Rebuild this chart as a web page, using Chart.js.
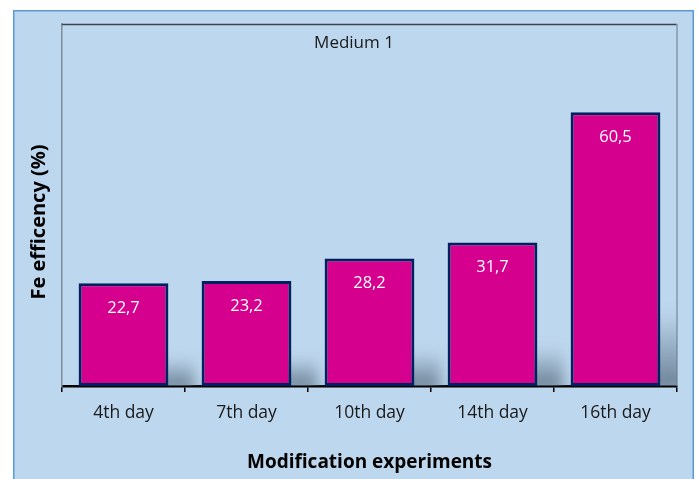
<!DOCTYPE html>
<html>
<head>
<meta charset="utf-8">
<script src="https://cdn.jsdelivr.net/npm/chart.js@4/dist/chart.umd.min.js"></script>
<style>
  html, body { margin: 0; padding: 0; background: #ffffff; }
  #wrap { width: 699px; height: 479px; position: relative; }
</style>
</head>
<body>
<div id="wrap"><canvas id="c" width="699" height="479"></canvas></div>
<script>
// Fe efficiency per sampling day, medium 1
const categories = ['4th day', '7th day', '10th day', '14th day', '16th day'];
const efficiency = [22.7, 23.2, 28.2, 31.7, 60.5];
const yAxisMax = 80;

const FONT = '"Open Sans", "Noto Sans", sans-serif';
const fmt = v => v.toFixed(1).replace('.', ',');

// light-blue panel with a thin blue outline behind everything
const panelPlugin = {
  id: 'panel',
  beforeDraw(chart) {
    const ctx = chart.ctx;
    ctx.save();
    ctx.fillStyle = '#ffffff';
    ctx.fillRect(0, 0, chart.width, chart.height);
    ctx.fillStyle = '#bdd7ee';
    ctx.fillRect(13, 10, 681, chart.height - 10);
    ctx.strokeStyle = '#5b9bd5';
    ctx.lineWidth = 1.5;
    ctx.beginPath();
    ctx.moveTo(13.75, chart.height);
    ctx.lineTo(13.75, 10.75);
    ctx.lineTo(693.25, 10.75);
    ctx.lineTo(693.25, chart.height);
    ctx.stroke();
    ctx.restore();
  }
};

// soft cast shadows at the foot of each bar, plot frame and text labels
const shadowPlugin = {
  id: 'barShadows',
  beforeDatasetsDraw(chart) {
    const ctx = chart.ctx;
    const a = chart.chartArea;
    ctx.save();
    ctx.strokeStyle = '#3f4448';
    ctx.lineWidth = 1.5;
    ctx.beginPath();
    ctx.moveTo(a.left, a.top + 0.5);
    ctx.lineTo(a.right, a.top + 0.5);
    ctx.stroke();
    ctx.strokeStyle = '#8497a8';
    ctx.beginPath();
    ctx.moveTo(a.right, a.top);
    ctx.lineTo(a.right, a.bottom);
    ctx.stroke();

    ctx.beginPath();
    ctx.rect(a.left, a.top, a.right - a.left, a.bottom - a.top);
    ctx.clip();
    ctx.filter = 'blur(7px)';
    const meta = chart.getDatasetMeta(0);
    meta.data.forEach(bar => {
      const h = bar.base - bar.y;
      const sh = h * 0.27;
      const left = bar.x - bar.width / 2;
      const right = bar.x + bar.width / 2;
      const g = ctx.createLinearGradient(0, bar.base, 0, bar.base - sh);
      g.addColorStop(0, 'rgba(95,115,135,0.85)');
      g.addColorStop(1, 'rgba(95,115,135,0)');
      ctx.fillStyle = g;
      ctx.beginPath();
      ctx.moveTo(left + 10, bar.base + 6);
      ctx.lineTo(right + 26, bar.base + 6);
      ctx.lineTo(right + 26, bar.base - sh);
      ctx.lineTo(left + 30, bar.base - sh);
      ctx.closePath();
      ctx.fill();
    });
    ctx.restore();
  },
  afterDatasetsDraw(chart) {
    const ctx = chart.ctx;
    const meta = chart.getDatasetMeta(0);
    ctx.save();
    // value labels inside the bars
    ctx.fillStyle = '#ffffff';
    ctx.font = '16.5px ' + FONT;
    ctx.textAlign = 'center';
    ctx.textBaseline = 'middle';
    meta.data.forEach((bar, i) => {
      ctx.fillText(fmt(efficiency[i]), bar.x, bar.y + 25);
    });
    // series caption inside the plot
    ctx.fillStyle = '#1a1a1a';
    ctx.font = '17px ' + FONT;
    ctx.fillText('Medium 1', 354, 43);
    // value axis title
    ctx.fillStyle = '#000000';
    ctx.font = 'bold 20px ' + FONT;
    ctx.translate(39, 222);
    ctx.rotate(-Math.PI / 2);
    ctx.fillText('Fe efficency (%)', 0, 0);
    ctx.restore();
  }
};

new Chart(document.getElementById('c'), {
  type: 'bar',
  data: {
    labels: categories,
    datasets: [{
      data: efficiency,
      backgroundColor: '#d6008f',
      borderColor: '#002060',
      borderWidth: 3,
      borderSkipped: false,
      barPercentage: 0.73,
      categoryPercentage: 1.0
    }]
  },
  options: {
    responsive: false,
    animation: false,
    events: [],
    layout: { padding: { left: 14, top: 24, right: 22, bottom: 0 } },
    plugins: {
      legend: { display: false },
      title: { display: false },
      tooltip: { enabled: false }
    },
    scales: {
      x: {
        offset: true,
        grid: {
          offset: true,
          drawOnChartArea: false,
          drawTicks: true,
          tickLength: 6,
          color: '#000000',
          lineWidth: 1.5
        },
        border: { color: '#000000', width: 2.5 },
        ticks: {
          color: '#1a1a1a',
          font: { family: FONT, size: 17.5 },
          padding: 11
        },
        title: {
          display: true,
          text: 'Modification experiments',
          color: '#000000',
          font: { family: FONT, size: 19, weight: 'bold' },
          padding: { top: 0, bottom: 5 }
        },
        afterFit(scale) { scale.height = 93; }
      },
      y: {
        min: 0,
        max: yAxisMax,
        ticks: { display: false },
        grid: { display: false, drawTicks: false },
        border: { color: '#7f8c99', width: 1.5 },
        afterFit(scale) { scale.width = 48; }
      }
    }
  },
  plugins: [panelPlugin, shadowPlugin]
});
</script>
</body>
</html>
